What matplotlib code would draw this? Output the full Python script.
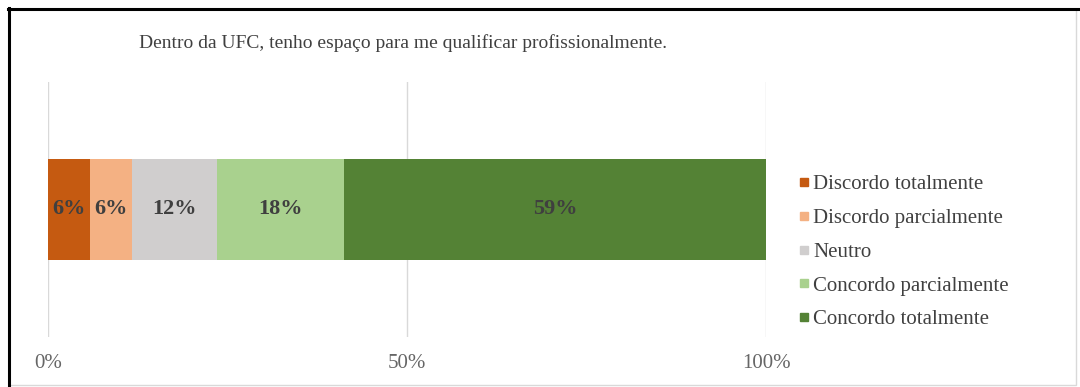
import matplotlib
matplotlib.use("Agg")
import matplotlib.pyplot as plt
from matplotlib.lines import Line2D
from matplotlib.patches import Rectangle

# respostas por categoria (contagens) -> percentuais
categorias = ["Discordo totalmente", "Discordo parcialmente", "Neutro",
              "Concordo parcialmente", "Concordo totalmente"]
respostas = [1, 1, 2, 3, 10]
cores = ["#C55A11", "#F4B183", "#D0CECE", "#A9D18E", "#548235"]
ticks = [0, 50, 100]
titulo = "Dentro da UFC, tenho espaço para me qualificar profissionalmente."

total = sum(respostas)
percentuais = [100 * r / total for r in respostas]

plt.rcParams["font.family"] = ["Liberation Serif", "DejaVu Serif"]

fig = plt.figure(figsize=(10.8, 3.87), dpi=100)
ax = fig.add_axes([48 / 1080, 1 - 337 / 387, 718 / 1080, 255 / 387])

esquerda = 0
for nome, pct, cor in zip(categorias, percentuais, cores):
    ax.barh(0, pct, left=esquerda, height=0.396, color=cor, label=nome, zorder=2)
    ax.text(esquerda + pct / 2, 0, f"{pct:.0f}%", ha="center", va="center",
            fontsize=16, fontweight="bold", color="#3F3F3F", zorder=3)
    esquerda += pct

ax.set_xlim(0, 100)
ax.set_ylim(-0.5, 0.5)
ax.set_xticks(ticks)
ax.set_xticklabels([f"{t}%" for t in ticks], fontsize=15, color="#666666")
ax.set_yticks([])
ax.tick_params(axis="x", length=0, pad=12)
ax.grid(axis="x", color="#D9D9D9", linewidth=1, zorder=0)
for s in ax.spines.values():
    s.set_visible(False)

fig.text(403 / 1080, 1 - 43 / 387, titulo, ha="center", va="center",
         fontsize=14, color="#404040")

handles = [Line2D([], [], marker="s", linestyle="none", markersize=6,
                  markerfacecolor=c, markeredgecolor=c) for c in cores]
fig.legend(handles, categorias, loc="upper left",
           bbox_to_anchor=(777 / 1080, 1 - 156 / 387), frameon=False,
           fontsize=15, labelspacing=0.68, handletextpad=0.05,
           handlelength=0.8, labelcolor="#404040")

# moldura da imagem
fig.patches.append(Rectangle((9 / 1080, 2 / 387), 1067 / 1080, 376 / 387,
                             transform=fig.transFigure, fill=False,
                             edgecolor="#D9D9D9", linewidth=1))
fig.lines.append(Line2D([8 / 1080, 1], [1 - 9 / 387, 1 - 9 / 387],
                        transform=fig.transFigure, color="black", linewidth=2.2))
fig.lines.append(Line2D([9 / 1080, 9 / 1080], [0, 1 - 8 / 387],
                        transform=fig.transFigure, color="black", linewidth=2.2))

fig.savefig("out.png", dpi=100)
